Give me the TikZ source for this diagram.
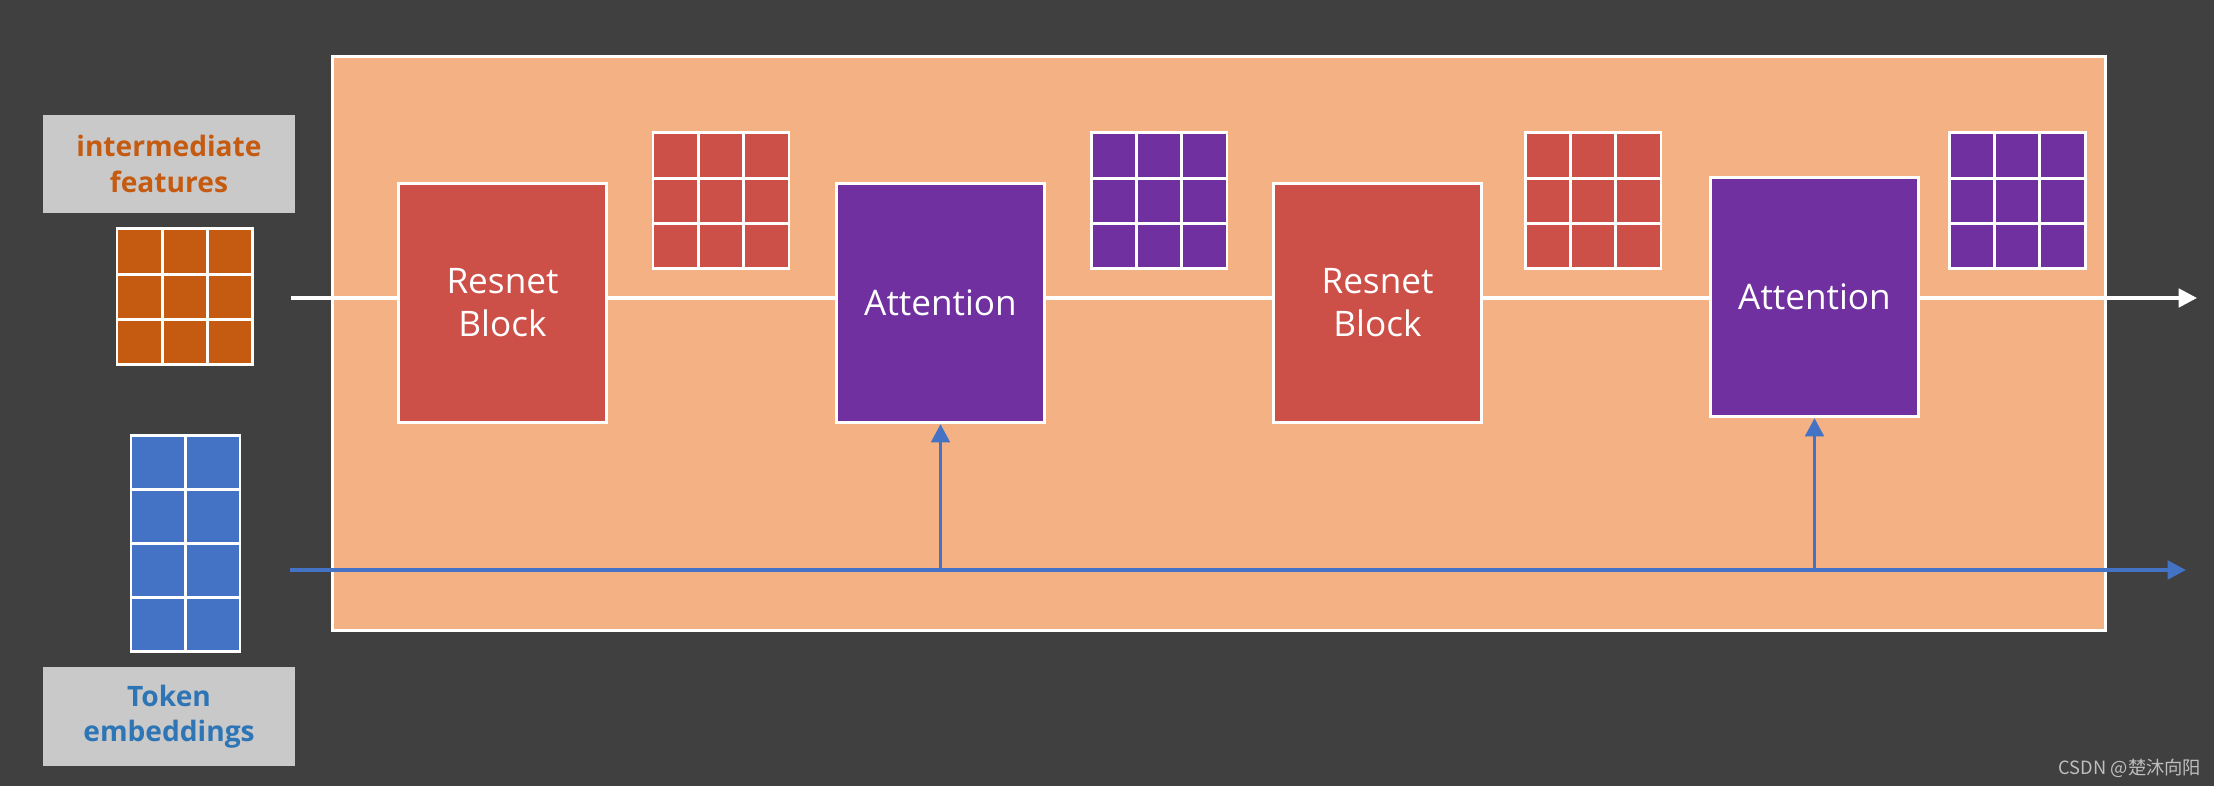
\documentclass[tikz,border=0pt]{standalone}
\usepackage{fontspec}
\setmainfont{Open Sans}
\newfontfamily\cjkfont{Noto Sans CJK SC}
\usetikzlibrary{arrows.meta}
\definecolor{bgdark}{RGB}{64,64,64}
\definecolor{panelorange}{RGB}{244,177,131}
\definecolor{resred}{RGB}{205,80,72}
\definecolor{attpurple}{RGB}{112,48,160}
\definecolor{featorange}{RGB}{197,90,17}
\definecolor{tokblue}{RGB}{68,114,196}
\definecolor{labelgray}{RGB}{201,201,201}
\definecolor{labelblue}{RGB}{46,117,182}
\definecolor{markgray}{RGB}{190,190,190}
\begin{document}
\begin{tikzpicture}[x=0.01cm,y=-0.01cm,
  blockbox/.style={draw=white, line width=0.85pt, minimum width=2.08cm, minimum height=2.39cm,
    text=white, font=\fontsize{10}{12.3}\selectfont, align=center, inner sep=0pt},
  resbox/.style={blockbox, fill=resred},
  attbox/.style={blockbox, fill=attpurple},
  labelbox/.style={fill=labelgray, minimum width=2.52cm, minimum height=0.98cm, inner sep=0pt,
    font=\bfseries\fontsize{8}{10}\selectfont, align=center},
  gridcell/.style={draw=white, line width=0.85pt},
  flow/.style={white, line width=1.1pt},
  cond/.style={tokblue, line width=1.1pt},
  tip/.style={-{Triangle[length=5.2pt,width=5.2pt]}}]
\useasboundingbox[fill=bgdark] (0,0) rectangle (2214,786);
% panel
\node[draw=white, line width=0.85pt, fill=panelorange, minimum width=17.71cm, minimum height=5.74cm, inner sep=0pt] (panel) at (1219,343.5) {};
% labels
\node[labelbox, text=featorange] (featlabel) at (169,164) {intermediate\\features};
\node[labelbox, text=labelblue] (toklabel) at (169,716.5) {Token\\embeddings};
% grids
\foreach \gx/\gy/\col in {117/229/featorange, 653/133/resred, 1091/133/attpurple, 1525/133/resred, 1949/133/attpurple}{
  \foreach \i in {0,1,2}{
    \foreach \j in {0,1,2}{
      \draw[gridcell, fill=\col] (\gx+\i*45.33,\gy+\j*45.33) rectangle ++(45.33,45.33);
    }
  }
}
\foreach \i in {0,1}{
  \foreach \j in {0,1,2,3}{
    \draw[gridcell, fill=tokblue] (131+\i*54.5,436+\j*54) rectangle ++(54.5,54);
  }
}
% blocks
\node[resbox] (r1) at (502.5,303) {Resnet\\Block};
\node[attbox] (a1) at (940.5,303) {Attention};
\node[resbox] (r2) at (1377.5,303) {Resnet\\Block};
\node[attbox] (a2) at (1814.5,297) {Attention};
% main flow
\coordinate (fin) at (291,298);
\coordinate (fout) at (2197,298);
\draw[flow] (fin) -- (fin -| r1.west);
\draw[flow] (fin -| r1.east) -- (fin -| a1.west);
\draw[flow] (fin -| a1.east) -- (fin -| r2.west);
\draw[flow] (fin -| r2.east) -- (fin -| a2.west);
\draw[flow, tip] (fin -| a2.east) -- (fout);
% token flow
\coordinate (tin) at (290,570);
\coordinate (tout) at (2186,570);
\draw[cond, tip] (tin) -- (tout);
\draw[cond, tip] (tin -| a1.south) -- (a1.south);
\draw[cond, tip] (tin -| a2.south) -- (a2.south);
% watermark
\node[text=markgray, font=\cjkfont\fontsize{5.2}{6}\selectfont, inner sep=0pt] (mark) at (2130,768) {CSDN @楚沐向阳};
\end{tikzpicture}
\end{document}
